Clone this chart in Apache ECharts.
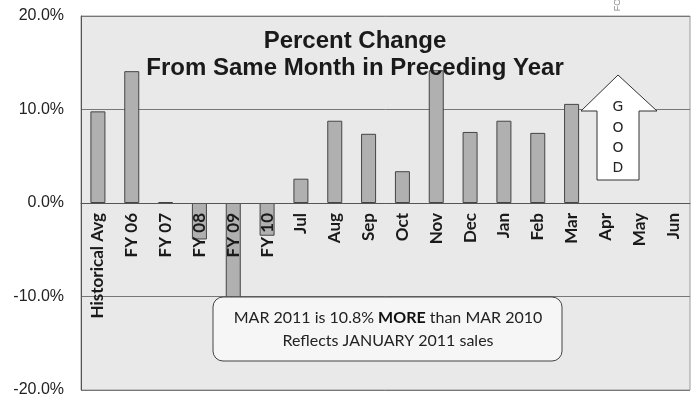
<!DOCTYPE html>
<html>
<head>
<meta charset="utf-8">
<script src="https://cdn.jsdelivr.net/npm/echarts@6/dist/echarts.min.js"></script>
<style>
  html, body { margin: 0; padding: 0; background: #fff; }
  #chart { width: 697px; height: 402px; }
</style>
</head>
<body>
<div id="chart"></div>
<script>
// categories along the x axis
var categories = ['Historical Avg', 'FY 06', 'FY 07', 'FY 08', 'FY 09', 'FY 10',
  'Jul', 'Aug', 'Sep', 'Oct', 'Nov', 'Dec', 'Jan', 'Feb', 'Mar', 'Apr', 'May', 'Jun'];
// percent change (Apr-Jun not reported yet)
var pctChange = [9.8, 14.1, 0.1, -3.9, -10.1, -3.5,
  2.6, 8.8, 7.4, 3.4, 14.2, 7.6, 8.8, 7.5, 10.6, null, null, null];
var yTicks = [-20, -10, 0, 10, 20];

var gridTop = 16, gridBottom = 12, chartH = 402;
// the category axis sits on the 0% line, half way down the plot
var zeroOffset = -(chartH - gridTop - gridBottom) / 2;

var myChart = echarts.init(document.getElementById('chart'));
var option = {
  backgroundColor: '#fff',
  animation: false,
  title: {
    text: 'Percent Change\nFrom Same Month in Preceding Year',
    left: 350,
    top: 23,
    textAlign: 'center',
    textStyle: {
      fontFamily: 'Liberation Sans',
      fontWeight: 'bold',
      fontSize: 24,
      lineHeight: 27,
      color: '#1a1a1a'
    }
  },
  grid: {
    left: 81, right: 7, top: gridTop, bottom: gridBottom,
    outerBoundsMode: 'none',
    containLabel: false,
    show: true,
    backgroundColor: '#e9e9e9',
    borderColor: '#9a9a9a',
    borderWidth: 1
  },
  xAxis: {
    type: 'category',
    data: categories,
    offset: zeroOffset,
    z: 5,
    axisLine: { onZero: false, lineStyle: { color: '#555', width: 1 } },
    axisTick: { show: false },
    axisLabel: {
      rotate: 90,
      margin: 10,
      interval: 0,
      hideOverlap: false,
      overflow: 'none',
      width: 200,
      fontFamily: 'Lato',
      fontWeight: 'bold',
      fontSize: 17,
      color: '#1a1a1a'
    }
  },
  yAxis: {
    type: 'value',
    min: yTicks[0],
    max: yTicks[yTicks.length - 1],
    interval: 10,
    axisLine: { show: true, onZero: false, lineStyle: { color: '#555' } },
    axisTick: { show: false },
    splitLine: { lineStyle: { color: '#777', width: 1 } },
    axisLabel: {
      margin: 17,
      fontFamily: 'Liberation Sans',
      fontSize: 16,
      color: '#222',
      formatter: function (v) { return v.toFixed(1) + '%'; }
    }
  },
  series: [{
    type: 'bar',
    data: pctChange,
    barWidth: 15,
    z: 1,
    itemStyle: { color: '#b0b0b0', borderColor: '#444', borderWidth: 1 }
  }],
  graphic: [
    {
      type: 'polygon',
      shape: { points: [[618, 75], [657, 111], [639, 111], [639, 180], [597, 180], [597, 111], [581, 111]] },
      style: { fill: '#fff', stroke: '#333', lineWidth: 1 },
      z: 10
    },
    { type: 'text', x: 618, y: 107, style: { text: 'G', fontFamily: 'DejaVu Sans', fontSize: 14, fill: '#222', align: 'center', verticalAlign: 'middle' }, z: 11 },
    { type: 'text', x: 618, y: 128, style: { text: 'O', fontFamily: 'DejaVu Sans', fontSize: 14, fill: '#222', align: 'center', verticalAlign: 'middle' }, z: 11 },
    { type: 'text', x: 618, y: 148, style: { text: 'O', fontFamily: 'DejaVu Sans', fontSize: 14, fill: '#222', align: 'center', verticalAlign: 'middle' }, z: 11 },
    { type: 'text', x: 618, y: 168, style: { text: 'D', fontFamily: 'DejaVu Sans', fontSize: 14, fill: '#222', align: 'center', verticalAlign: 'middle' }, z: 11 },
    {
      type: 'rect',
      shape: { x: 213, y: 297, width: 349, height: 64, r: 10 },
      style: { fill: '#f6f6f6', stroke: '#444', lineWidth: 1 },
      z: 10
    },
    {
      type: 'text',
      x: 388, y: 329,
      z: 11,
      style: {
        text: '{n|MAR 2011 is 10.8% }{b|MORE}{n| than MAR 2010}\n{n|Reflects JANUARY 2011 sales}',
        align: 'center',
        verticalAlign: 'middle',
        rich: {
          n: { fontFamily: 'Lato', fontSize: 16, lineHeight: 23, fill: '#222' },
          b: { fontFamily: 'Lato', fontSize: 16, lineHeight: 23, fontWeight: 'bold', fill: '#111' }
        }
      }
    },
    {
      type: 'text',
      x: 618, y: 5,
      rotation: Math.PI / 2,
      style: { text: 'FO', fontFamily: 'Liberation Sans', fontSize: 9, fill: '#888', align: 'center', verticalAlign: 'middle' }
    }
  ]
};
myChart.setOption(option);
</script>
</body>
</html>
